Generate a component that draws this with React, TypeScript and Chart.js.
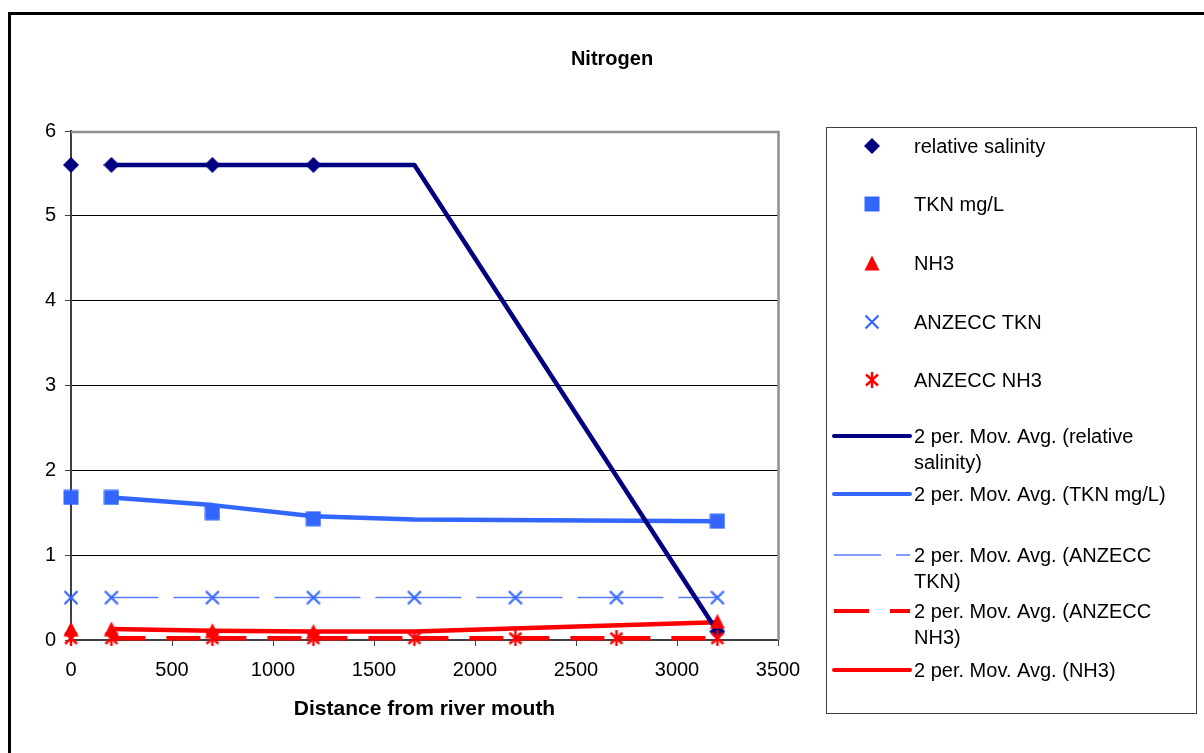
import React, { useEffect, useRef } from 'react';
import { Chart, registerables } from 'chart.js';

Chart.register(...registerables);

// ---------- data ----------
const distance = [0, 200, 700, 1200, 1700, 2200, 2700, 3200];
const relativeSalinity = [5.6, 5.6, 5.6, 5.6, null, null, null, 0.1];
const tknMgL = [1.68, 1.68, 1.5, 1.43, null, null, null, 1.4];
const nh3 = [0.13, 0.13, 0.11, 0.1, null, null, null, 0.22];
const anzeccTkn = [0.5, 0.5, 0.5, 0.5, 0.5, 0.5, 0.5, 0.5];
const anzeccNh3 = [0.02, 0.02, 0.02, 0.02, 0.02, 0.02, 0.02, 0.02];

// 2 period moving averages (as drawn)
const maSalinity = [null, 5.6, 5.6, 5.6, 5.6, null, null, 0.1];
const maTkn = [null, 1.68, 1.59, 1.46, 1.42, null, null, 1.4];
const maNh3 = [null, 0.13, 0.11, 0.1, 0.1, null, null, 0.21];
const maAnzeccTkn = [null, 0.5, 0.5, 0.5, 0.5, 0.5, 0.5, 0.5];
const maAnzeccNh3 = [null, 0.02, 0.02, 0.02, 0.02, 0.02, 0.02, 0.02];

const xTickValues = [0, 500, 1000, 1500, 2000, 2500, 3000, 3500];
const yTickValues = [0, 1, 2, 3, 4, 5, 6];

const chartTitle = 'Nitrogen';
const xAxisTitle = 'Distance from river mouth';

const NAVY = '#000080';
const BLUE = '#3366FF';
const LIGHTBLUE = '#5C7CFF';
const RED = '#FF0000';
const FONT = "'Liberation Sans', Arial, sans-serif";

function pts(vals: (number | null)[]) {
  const out: { x: number; y: number }[] = [];
  vals.forEach((v, i) => {
    if (v !== null && v !== undefined) out.push({ x: distance[i], y: v });
  });
  return out;
}

function makeMarker(kind: string, color: string): HTMLCanvasElement {
  const c = document.createElement('canvas');
  const s = 16;
  c.width = s;
  c.height = s;
  const g = c.getContext('2d')!;
  g.fillStyle = color;
  g.strokeStyle = color;
  if (kind === 'diamond') {
    g.beginPath();
    g.moveTo(8, 0);
    g.lineTo(16, 8);
    g.lineTo(8, 16);
    g.lineTo(0, 8);
    g.closePath();
    g.fill();
  } else if (kind === 'square') {
    g.fillRect(0.5, 0.5, 15, 15);
  } else if (kind === 'triangle') {
    g.beginPath();
    g.moveTo(8, 0.5);
    g.lineTo(15.5, 15.5);
    g.lineTo(0.5, 15.5);
    g.closePath();
    g.fill();
  } else if (kind === 'x') {
    g.lineWidth = 2.2;
    g.beginPath();
    g.moveTo(1.5, 1.5);
    g.lineTo(14.5, 14.5);
    g.moveTo(14.5, 1.5);
    g.lineTo(1.5, 14.5);
    g.stroke();
  } else if (kind === 'star') {
    g.lineWidth = 2.4;
    g.beginPath();
    g.moveTo(2, 2.5);
    g.lineTo(14, 13.5);
    g.moveTo(14, 2.5);
    g.lineTo(2, 13.5);
    g.moveTo(8, 0);
    g.lineTo(8, 16);
    g.stroke();
  }
  return c;
}

export default function App() {
  const ref = useRef<HTMLCanvasElement | null>(null);

  useEffect(() => {
    if (!ref.current) return;
    const mDiamond = makeMarker('diamond', NAVY);
    const mSquare = makeMarker('square', BLUE);
    const mTriangle = makeMarker('triangle', RED);
    const mX = makeMarker('x', BLUE);
    const mStar = makeMarker('star', RED);

    const markerDs = (label: string, vals: (number | null)[], img: HTMLCanvasElement) => ({
      label,
      data: pts(vals),
      showLine: false,
      pointStyle: img,
      pointRadius: 8,
      pointHoverRadius: 8,
      clip: false,
    });
    const lineDs = (label: string, vals: (number | null)[], color: string, width: number, dash: number[]) => ({
      type: 'line' as const,
      label,
      data: pts(vals),
      showLine: true,
      borderColor: color,
      backgroundColor: color,
      borderWidth: width,
      borderDash: dash,
      borderCapStyle: dash.length ? 'butt' : 'round',
      borderJoinStyle: 'round',
      pointRadius: 0,
      fill: false,
      tension: 0,
      clip: false,
    });

    const legendRows = [
      { kind: 'marker', img: mDiamond, y: 146, lines: ['relative salinity'] },
      { kind: 'marker', img: mSquare, y: 204, lines: ['TKN mg/L'] },
      { kind: 'marker', img: mTriangle, y: 263, lines: ['NH3'] },
      { kind: 'marker', img: mX, y: 322, lines: ['ANZECC TKN'] },
      { kind: 'marker', img: mStar, y: 380, lines: ['ANZECC NH3'] },
      { kind: 'line', color: NAVY, width: 4, dash: [] as number[], y: 436, lines: ['2 per. Mov. Avg. (relative', 'salinity)'] },
      { kind: 'line', color: BLUE, width: 4, dash: [] as number[], y: 494, lines: ['2 per. Mov. Avg. (TKN mg/L)'] },
      { kind: 'line', color: LIGHTBLUE, width: 1.5, dash: [47, 15], y: 555, lines: ['2 per. Mov. Avg. (ANZECC', 'TKN)'] },
      { kind: 'line', color: RED, width: 4, dash: [35, 21], y: 611, lines: ['2 per. Mov. Avg. (ANZECC', 'NH3)'] },
      { kind: 'line', color: RED, width: 4, dash: [] as number[], y: 670, lines: ['2 per. Mov. Avg. (NH3)'] },
    ];

    const decor = {
      id: 'decor',
      beforeDraw(chart: any) {
        const ctx = chart.ctx;
        ctx.save();
        ctx.fillStyle = '#ffffff';
        ctx.fillRect(0, 0, chart.width, chart.height);
        ctx.restore();
      },
      beforeDatasetsDraw(chart: any) {
        const ctx = chart.ctx;
        const { left, top, right, bottom } = chart.chartArea;
        ctx.save();
        ctx.strokeStyle = '#909090';
        ctx.lineWidth = 2.5;
        ctx.beginPath();
        ctx.moveTo(left, top + 1);
        ctx.lineTo(right + 0.5, top + 1);
        ctx.lineTo(right + 0.5, bottom);
        ctx.stroke();
        ctx.restore();
      },
      afterDraw(chart: any) {
        const ctx = chart.ctx;
        const area = chart.chartArea;
        ctx.save();
        // outer frame
        ctx.strokeStyle = '#000000';
        ctx.lineWidth = 3;
        ctx.strokeRect(9.5, 13.5, 1210, 760);
        // title
        ctx.fillStyle = '#000000';
        ctx.textAlign = 'center';
        ctx.textBaseline = 'alphabetic';
        ctx.font = `bold 20px ${FONT}`;
        ctx.fillText(chartTitle, 612, 65);
        ctx.font = `bold 21px ${FONT}`;
        ctx.fillText(xAxisTitle, (area.left + area.right) / 2, 715);
        // legend box
        ctx.strokeStyle = '#404040';
        ctx.lineWidth = 1;
        ctx.strokeRect(826.5, 127.5, 370, 586);
        ctx.font = `20px ${FONT}`;
        ctx.textAlign = 'left';
        legendRows.forEach((r: any) => {
          if (r.kind === 'marker') {
            ctx.drawImage(r.img, 872 - r.img.width / 2, r.y - r.img.height / 2);
          } else {
            ctx.save();
            ctx.strokeStyle = r.color;
            ctx.lineWidth = r.width;
            ctx.setLineDash(r.dash);
            ctx.lineCap = r.dash.length ? 'butt' : 'round';
            ctx.beginPath();
            ctx.moveTo(834, r.y);
            ctx.lineTo(910, r.y);
            ctx.stroke();
            ctx.restore();
          }
          r.lines.forEach((t: string, i: number) => {
            ctx.fillText(t, 914, r.y + 7 + i * 26);
          });
        });
        ctx.restore();
      },
    };

    // Chart.js paints the first dataset last (on top)
    const chart = new Chart(ref.current, {
      type: 'scatter',
      data: {
        datasets: [
          markerDs('NH3', nh3, mTriangle),
          markerDs('ANZECC NH3', anzeccNh3, mStar),
          markerDs('TKN mg/L', tknMgL, mSquare),
          markerDs('ANZECC TKN', anzeccTkn, mX),
          markerDs('relative salinity', relativeSalinity, mDiamond),
          lineDs('2 per. Mov. Avg. (relative salinity)', maSalinity, NAVY, 4.5, []),
          lineDs('2 per. Mov. Avg. (TKN mg/L)', maTkn, BLUE, 4.5, []),
          lineDs('2 per. Mov. Avg. (NH3)', maNh3, RED, 4.5, []),
          lineDs('2 per. Mov. Avg. (ANZECC TKN)', maAnzeccTkn, LIGHTBLUE, 1.5, [47, 15, 39, 0]),
          lineDs('2 per. Mov. Avg. (ANZECC NH3)', maAnzeccNh3, RED, 4.5, [34, 21, 34, 12]),
        ] as any,
      },
      options: {
        responsive: false,
        animation: false,
        devicePixelRatio: 1,
        layout: { padding: { top: 131, right: 426, bottom: 0, left: 0 } },
        plugins: {
          legend: { display: false },
          title: { display: false },
          tooltip: { enabled: false },
        },
        scales: {
          x: {
            type: 'linear',
            min: 0,
            max: 3500,
            afterBuildTicks: (s: any) => {
              s.ticks = xTickValues.map((v) => ({ value: v }));
            },
            afterFit: (s: any) => {
              s.height = 113;
            },
            ticks: {
              color: '#000000',
              font: { family: FONT, size: 20 },
              padding: 12,
              maxRotation: 0,
              autoSkip: false,
              callback: (v: any) => String(v),
            },
            grid: {
              drawOnChartArea: false,
              drawTicks: true,
              tickLength: 6,
              tickColor: '#404040',
              tickWidth: 1,
            },
            border: { display: true, color: '#404040', width: 2 },
          },
          y: {
            type: 'linear',
            min: 0,
            max: 6,
            afterBuildTicks: (s: any) => {
              s.ticks = yTickValues.map((v) => ({ value: v }));
            },
            afterFit: (s: any) => {
              s.width = 71;
            },
            ticks: {
              color: '#000000',
              font: { family: FONT, size: 20 },
              padding: 9,
              autoSkip: false,
              callback: (v: any) => String(v),
            },
            grid: {
              color: '#000000',
              lineWidth: 1,
              drawTicks: true,
              tickLength: 6,
              tickColor: '#404040',
            },
            border: { display: true, color: '#404040', width: 2 },
          },
        },
      } as any,
      plugins: [decor],
    });
    return () => chart.destroy();
  }, []);

  return (
    <div style={{ position: 'fixed', left: 0, top: 0, width: 1204, height: 753, background: '#fff' }}>
      <canvas ref={ref} width={1204} height={753} style={{ display: 'block', width: 1204, height: 753 }} />
    </div>
  );
}
